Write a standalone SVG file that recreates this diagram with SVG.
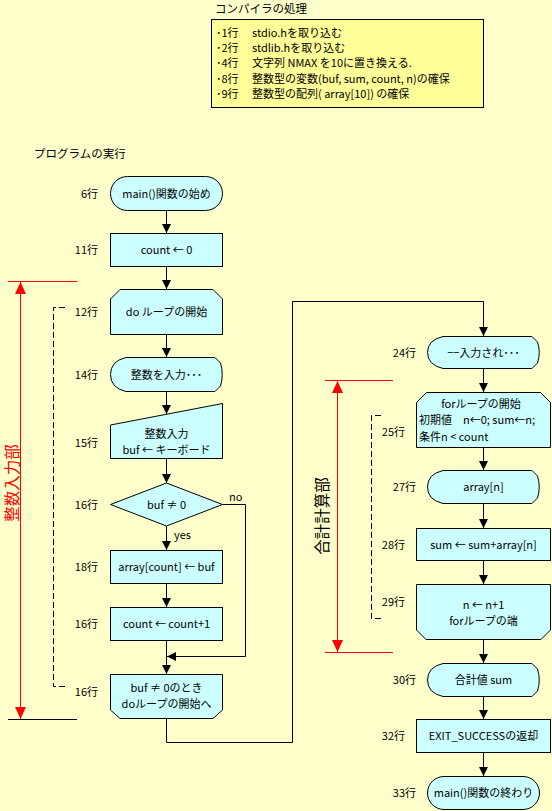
<svg xmlns="http://www.w3.org/2000/svg" width="552" height="811" viewBox="0 0 552 811">
<style>
text{font-family:"Noto Sans CJK JP","Noto Sans",sans-serif;font-size:11px;fill:#000}
.c{text-anchor:middle}
.r{text-anchor:end}
.node{fill:#CCFFFF;stroke:#000;stroke-width:1}
.ln{fill:none;stroke:#000;stroke-width:1}
.dash{fill:none;stroke:#000;stroke-width:1;stroke-dasharray:6,3}
.red{fill:none;stroke:#FF0000;stroke-width:1}
</style>
<defs>
<marker id="ah" markerUnits="userSpaceOnUse" markerWidth="10" markerHeight="10" refX="9" refY="5" orient="auto">
<path d="M0,0.5 L9,5 L0,9.5 Z" fill="#000"/>
</marker>
<marker id="rh" markerUnits="userSpaceOnUse" markerWidth="13" markerHeight="12" refX="12" refY="6" orient="auto">
<path d="M0,0.5 L12,6 L0,11.5 Z" fill="#FF0000"/>
</marker>
</defs>
<rect x="0" y="0" width="552" height="811" fill="#FFFFCC"/>

<g id="compiler">
<text x="215" y="12.5" style="font-size:11.5px">コンパイラの処理</text>
<rect x="211.5" y="19.5" width="272" height="88" fill="#FFFF99" stroke="#000"/>
<text x="216" y="37">･1行</text><text x="252" y="37">stdio.hを取り込む</text>
<text x="216" y="52">･2行</text><text x="252" y="52">stdlib.hを取り込む</text>
<text x="216" y="67">･4行</text><text x="252" y="67">文字列 NMAX を10に置き換える.</text>
<text x="216" y="83">･8行</text><text x="252" y="83">整数型の変数(buf, sum, count, n)の確保</text>
<text x="216" y="98">･9行</text><text x="252" y="98">整数型の配列( array[10]) の確保</text>
</g>

<text x="34" y="158" style="font-size:11.5px">プログラムの実行</text>

<g id="brackets">
<line class="red" x1="8" y1="281.5" x2="77" y2="281.5"/>
<line class="red" x1="20.5" y1="300" x2="20.5" y2="282" marker-end="url(#rh)"/>
<line class="red" x1="20.5" y1="300" x2="20.5" y2="719" marker-end="url(#rh)"/>
<line class="ln" x1="8" y1="719.5" x2="77" y2="719.5"/>
<text transform="translate(17.5,483) rotate(-90)" class="c" style="font-size:15.5px;fill:#FF0000">整数入力部</text>
<path class="dash" d="M65,307.5 H53.5 V686.5 H65"/>

<line class="red" x1="325" y1="380.5" x2="393" y2="380.5"/>
<line class="red" x1="337.5" y1="400" x2="337.5" y2="381" marker-end="url(#rh)"/>
<line class="red" x1="337.5" y1="400" x2="337.5" y2="652" marker-end="url(#rh)"/>
<line class="red" x1="325" y1="652.5" x2="393" y2="652.5"/>
<text transform="translate(328,516) rotate(-90)" class="c" style="font-size:15.5px">合計計算部</text>
<path class="dash" d="M381,415.5 H371.5 V618.5 H381"/>
</g>

<g id="connectors">
<line class="ln" x1="166.5" y1="211" x2="166.5" y2="233" marker-end="url(#ah)"/>
<line class="ln" x1="166.5" y1="267" x2="166.5" y2="289" marker-end="url(#ah)"/>
<line class="ln" x1="166.5" y1="335" x2="166.5" y2="357" marker-end="url(#ah)"/>
<line class="ln" x1="166.5" y1="392" x2="166.5" y2="414" marker-end="url(#ah)"/>
<line class="ln" x1="166.5" y1="459" x2="166.5" y2="483" marker-end="url(#ah)"/>
<line class="ln" x1="166.5" y1="526" x2="166.5" y2="550" marker-end="url(#ah)"/>
<line class="ln" x1="166.5" y1="584" x2="166.5" y2="607" marker-end="url(#ah)"/>
<line class="ln" x1="166.5" y1="641" x2="166.5" y2="674" marker-end="url(#ah)"/>
<polyline class="ln" points="223,504.5 245.5,504.5 245.5,656.5 167,656.5" marker-end="url(#ah)"/>
<polyline class="ln" points="166.5,719 166.5,742.5 292.5,742.5 292.5,301.5 483.5,301.5 483.5,336" marker-end="url(#ah)"/>
<line class="ln" x1="483.5" y1="369" x2="483.5" y2="392" marker-end="url(#ah)"/>
<line class="ln" x1="483.5" y1="448" x2="483.5" y2="470" marker-end="url(#ah)"/>
<line class="ln" x1="483.5" y1="504" x2="483.5" y2="528" marker-end="url(#ah)"/>
<line class="ln" x1="483.5" y1="561" x2="483.5" y2="584" marker-end="url(#ah)"/>
<line class="ln" x1="483.5" y1="640" x2="483.5" y2="663" marker-end="url(#ah)"/>
<line class="ln" x1="483.5" y1="697" x2="483.5" y2="719" marker-end="url(#ah)"/>
<line class="ln" x1="483.5" y1="753" x2="483.5" y2="776" marker-end="url(#ah)"/>
<text x="229" y="501">no</text>
<text x="174" y="539">yes</text>
</g>

<g id="n6">
<rect class="node" x="110.5" y="176.5" width="112" height="34" rx="17"/>
<text class="c" x="166.5" y="197.5">main()関数の始め</text>
<text class="r" x="98" y="197.5">6行</text>
</g>
<g id="n11">
<rect class="node" x="110.5" y="233.5" width="112" height="33"/>
<text class="c" x="166.5" y="254">count ← 0</text>
<text class="r" x="98" y="254">11行</text>
</g>
<g id="n12">
<path class="node" d="M110.5,299 L120,289.5 L213,289.5 L222.5,299 L222.5,334.5 L110.5,334.5 Z"/>
<text class="c" x="166.5" y="316">do ループの開始</text>
<text class="r" x="98" y="316">12行</text>
</g>
<g id="n14">
<path class="node" d="M126,357.5 L215,357.5 L220.5,363 Q224,374.5 220.5,386 L215,391.5 L126,391.5 Q110.5,388 110.5,374.5 Q110.5,361 126,357.5 Z"/>
<text class="c" x="166.5" y="379">整数を入力･･･</text>
<text class="r" x="98" y="379">14行</text>
</g>
<g id="n15">
<path class="node" d="M110.5,425 L222.5,403.5 L222.5,458.5 L110.5,458.5 Z"/>
<text class="c" x="166.5" y="438">整数入力</text>
<text class="c" x="166.5" y="454">buf ← キーボード</text>
<text class="r" x="98" y="447">15行</text>
</g>
<g id="n16a">
<path class="node" d="M166.5,483 L222.5,504.5 L166.5,526 L110.5,504.5 Z"/>
<text class="c" x="166.5" y="508.5">buf ≠ 0</text>
<text class="r" x="98" y="508.5">16行</text>
</g>
<g id="n18">
<rect class="node" x="110.5" y="550.5" width="112" height="33"/>
<text class="c" x="166.5" y="571">array[count] ← buf</text>
<text class="r" x="98" y="571">18行</text>
</g>
<g id="n16b">
<rect class="node" x="110.5" y="607.5" width="112" height="33"/>
<text class="c" x="166.5" y="628">count ← count+1</text>
<text class="r" x="98" y="628">16行</text>
</g>
<g id="n16c">
<path class="node" d="M110.5,674.5 L222.5,674.5 L222.5,710 L213,718.5 L120,718.5 L110.5,710 Z"/>
<text class="c" x="166.5" y="692">buf ≠ 0のとき</text>
<text class="c" x="166.5" y="708">doループの開始へ</text>
<text class="r" x="98" y="696">16行</text>
</g>

<g id="n24">
<path class="node" d="M443,336.5 L532,336.5 L537.5,342 Q541,352.5 537.5,363 L532,368.5 L443,368.5 Q427.5,365 427.5,352.5 Q427.5,340 443,336.5 Z"/>
<text class="c" x="483.5" y="356.5">−−入力され･･･</text>
<text class="r" x="416" y="356.5">24行</text>
</g>
<g id="n25">
<path class="node" d="M416.5,402.5 L426.5,392.5 L540.5,392.5 L550.5,402.5 L550.5,447.5 L416.5,447.5 Z"/>
<text class="c" x="481" y="407.5">forループの開始</text>
<text x="419" y="424">初期値　n←0; sum←n;</text>
<text x="419" y="440.5">条件n &lt; count</text>
<text class="r" x="405" y="436">25行</text>
</g>
<g id="n27">
<path class="node" d="M443,470.5 L532,470.5 L537.5,476 Q541,487 537.5,498 L532,503.5 L443,503.5 Q427.5,500 427.5,487 Q427.5,474 443,470.5 Z"/>
<text class="c" x="483.5" y="491">array[n]</text>
<text class="r" x="416" y="491">27行</text>
</g>
<g id="n28">
<rect class="node" x="416.5" y="528.5" width="134" height="32"/>
<text class="c" x="483.5" y="548.5">sum ← sum+array[n]</text>
<text class="r" x="405" y="548.5">28行</text>
</g>
<g id="n29">
<path class="node" d="M416.5,584.5 L550.5,584.5 L550.5,630 L541,639.5 L426,639.5 L416.5,630 Z"/>
<text class="c" x="483.5" y="609">n ← n+1</text>
<text class="c" x="483.5" y="625">forループの端</text>
<text class="r" x="405" y="606">29行</text>
</g>
<g id="n30">
<path class="node" d="M443,663.5 L532,663.5 L537.5,669 Q541,680 537.5,691 L532,696.5 L443,696.5 Q427.5,693 427.5,680 Q427.5,667 443,663.5 Z"/>
<text class="c" x="483.5" y="684">合計値 sum</text>
<text class="r" x="416" y="684">30行</text>
</g>
<g id="n32">
<rect class="node" x="416.5" y="719.5" width="134" height="33"/>
<text class="c" x="483.5" y="740">EXIT_SUCCESSの返却</text>
<text class="r" x="405" y="740">32行</text>
</g>
<g id="n33">
<rect class="node" x="427.5" y="776.5" width="112" height="33" rx="16.5"/>
<text class="c" x="483.5" y="797">main()関数の終わり</text>
<text class="r" x="416" y="797">33行</text>
</g>
</svg>
